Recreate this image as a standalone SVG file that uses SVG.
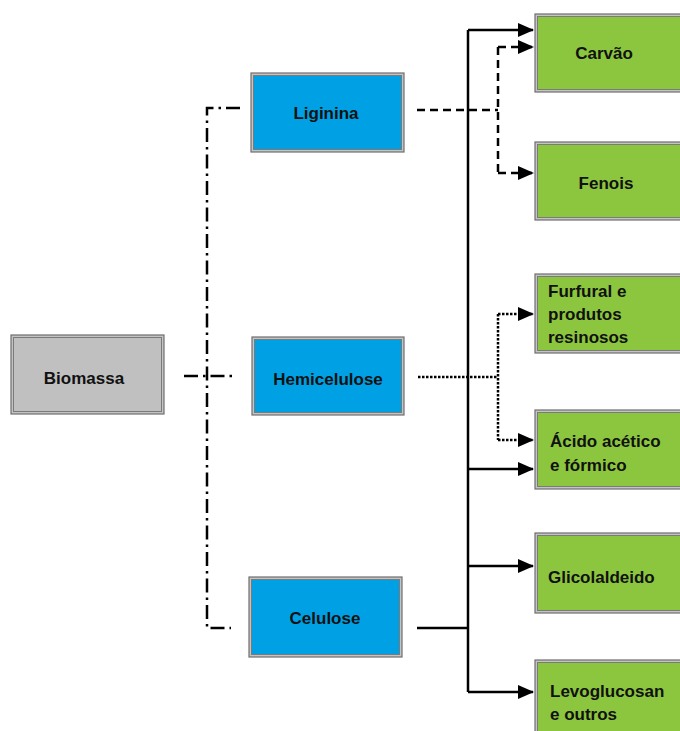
<svg xmlns="http://www.w3.org/2000/svg" width="680" height="731" viewBox="0 0 680 731">
<defs>
<marker id="ah" markerWidth="16" markerHeight="14" refX="15" refY="7" orient="auto" markerUnits="userSpaceOnUse">
<path d="M0,0 L16,7 L0,14 Z" fill="#000"/>
</marker>
<style>
.outer{fill:#c4c4c4;stroke:#6e6e6e;stroke-width:1.2}
.gray{fill:#c0c0c0;stroke:#7a7a7a;stroke-width:1}
.blue{fill:#00a1e4;stroke:#7a7a7a;stroke-width:1}
.green{fill:#8cc63e;stroke:#7a7a7a;stroke-width:1}
.t{font-family:"Liberation Sans",Arial,sans-serif;font-weight:bold;font-size:17px;fill:#111}
.c{text-anchor:middle;dominant-baseline:central}
.ln{fill:none;stroke:#000;stroke-width:2.5}
.dd{stroke-dasharray:14,5,2.5,5}
.da{stroke-dasharray:8,5}
.dt{stroke-dasharray:2.5,1.5}
</style>
</defs>
<rect width="680" height="731" fill="#fff"/>
<g id="connectors">
<path class="ln dd" d="M240,108 H207 V628 H231"/>
<path class="ln dd" d="M184,376 H232"/>
<path class="ln da" d="M417,110 H498"/>
<path class="ln da" d="M498,47 V173"/>
<path class="ln da" d="M498,47 H533" marker-end="url(#ah)"/>
<path class="ln da" d="M498,173 H533" marker-end="url(#ah)"/>
<path class="ln" d="M468,30 V692"/>
<path class="ln" d="M468,30 H533" marker-end="url(#ah)"/>
<path class="ln" d="M468,469 H533" marker-end="url(#ah)"/>
<path class="ln" d="M468,566 H533" marker-end="url(#ah)"/>
<path class="ln" d="M468,692 H533" marker-end="url(#ah)"/>
<path class="ln" d="M417,628 H468"/>
<path class="ln dt" d="M418,377 H498"/>
<path class="ln dt" d="M498,314 V440"/>
<path class="ln dt" d="M498,314 H533" marker-end="url(#ah)"/>
<path class="ln dt" d="M498,440 H533" marker-end="url(#ah)"/>
</g>
<g id="biomassa">
<rect class="outer" x="11" y="335" width="153" height="79"/>
<rect class="gray" x="13.5" y="337.5" width="148" height="74"/>
<text class="t c" x="84" y="378">Biomassa</text>
</g>
<g id="liginina">
<rect class="outer" x="251" y="73" width="153" height="79"/>
<rect class="blue" x="253.5" y="75.5" width="148" height="74"/>
<text class="t c" x="326" y="113">Liginina</text>
</g>
<g id="hemicelulose">
<rect class="outer" x="252" y="337" width="152" height="78"/>
<rect class="blue" x="254.5" y="339.5" width="147" height="73"/>
<text class="t c" x="328" y="379">Hemicelulose</text>
</g>
<g id="celulose">
<rect class="outer" x="249" y="577" width="153" height="80"/>
<rect class="blue" x="251.5" y="579.5" width="148" height="75"/>
<text class="t c" x="325" y="618">Celulose</text>
</g>
<g id="carvao">
<rect class="outer" x="535" y="14" width="160" height="78"/>
<rect class="green" x="537.5" y="16.5" width="160" height="73"/>
<text class="t c" x="604" y="53">Carvão</text>
</g>
<g id="fenois">
<rect class="outer" x="535" y="142" width="160" height="78"/>
<rect class="green" x="537.5" y="144.5" width="160" height="73"/>
<text class="t c" x="606" y="183">Fenois</text>
</g>
<g id="furfural">
<rect class="outer" x="535" y="274" width="160" height="79"/>
<rect class="green" x="537.5" y="276.5" width="160" height="74"/>
<text class="t" x="548" y="297">Furfural e</text>
<text class="t" x="548" y="320">produtos</text>
<text class="t" x="548" y="343">resinosos</text>
</g>
<g id="acido">
<rect class="outer" x="535" y="410" width="160" height="79"/>
<rect class="green" x="537.5" y="412.5" width="160" height="74"/>
<text class="t" x="550" y="447">Ácido acético</text>
<text class="t" x="550" y="471">e fórmico</text>
</g>
<g id="glicolaldeido">
<rect class="outer" x="535" y="533" width="160" height="80"/>
<rect class="green" x="537.5" y="535.5" width="160" height="75"/>
<text class="t" x="548" y="583">Glicolaldeido</text>
</g>
<g id="levoglucosan">
<rect class="outer" x="535" y="660" width="160" height="80"/>
<rect class="green" x="537.5" y="662.5" width="160" height="75"/>
<text class="t" x="550" y="697">Levoglucosan</text>
<text class="t" x="550" y="720">e outros</text>
</g>
</svg>
